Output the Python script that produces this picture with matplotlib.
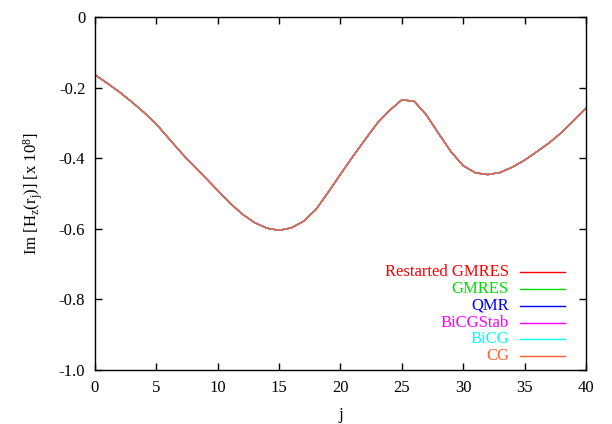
import matplotlib
matplotlib.use("Agg")
import matplotlib.pyplot as plt

plt.rcParams['font.family'] = ['Liberation Serif', 'DejaVu Serif']
plt.rcParams['mathtext.fontset'] = 'custom'
plt.rcParams['mathtext.rm'] = 'Liberation Serif'
plt.rcParams['mathtext.it'] = 'Liberation Serif:italic'

# data (all solvers give the same curve)
j = list(range(41))
im_hz = [-0.163, -0.187, -0.212, -0.240, -0.270, -0.303, -0.343, -0.383, -0.420,
         -0.455, -0.491, -0.527, -0.558, -0.582, -0.598, -0.604, -0.597, -0.578,
         -0.545, -0.496, -0.445, -0.395, -0.347, -0.300, -0.264, -0.234, -0.238,
         -0.277, -0.330, -0.381, -0.421, -0.441, -0.446, -0.440, -0.425, -0.405,
         -0.381, -0.356, -0.327, -0.293, -0.258]

solvers = ['Restarted GMRES', 'GMRES', 'QMR', 'BiCGStab', 'BiCG', 'CG']
colors = ['#ff0000', '#00e000', '#0000ff', '#ff00ff', '#00ffff', '#ff6030']

x_ticks = [0, 5, 10, 15, 20, 25, 30, 35, 40]
y_ticks = [0, -0.2, -0.4, -0.6, -0.8, -1.0]
y_tick_labels = ['0', '-0.2', '-0.4', '-0.6', '-0.8', '-1.0']

fig = plt.figure(figsize=(6.12, 4.24), dpi=100)
ax = fig.add_axes([0.1552, 0.1274, 0.8023, 0.8318])

for name, c in zip(solvers, colors):
    ax.plot(j, im_hz, color=c, lw=1.0)

ax.set_xlim(0, 40)
ax.set_ylim(-1.0, 0)
ax.set_xticks(x_ticks)
ax.set_yticks(y_ticks)
ax.set_yticklabels(y_tick_labels)
ax.tick_params(direction='in', length=5, width=1, labelsize=12,
               top=True, right=True, pad=7, colors='black')
for s in ax.spines.values():
    s.set_linewidth(1.0)

ax.set_xlabel('j', fontsize=12, labelpad=8)
ax.set_ylabel(r'Im [H$_\mathrm{z}$(r$_\mathrm{j}$)] [x 10$^8$]', fontsize=12, labelpad=10)

# gnuplot-style key: right-aligned coloured text with line sample on the right
y0 = 0.277
dy = 0.0475
for i, (name, c) in enumerate(zip(solvers, colors)):
    yy = y0 - i * dy
    ax.text(0.843, yy, name, color=c, fontsize=12, ha='right', va='center',
            transform=ax.transAxes)
    ax.plot([0.866, 0.958], [yy, yy], color=c, lw=1.0, transform=ax.transAxes)

fig.savefig('out.png', dpi=100)
